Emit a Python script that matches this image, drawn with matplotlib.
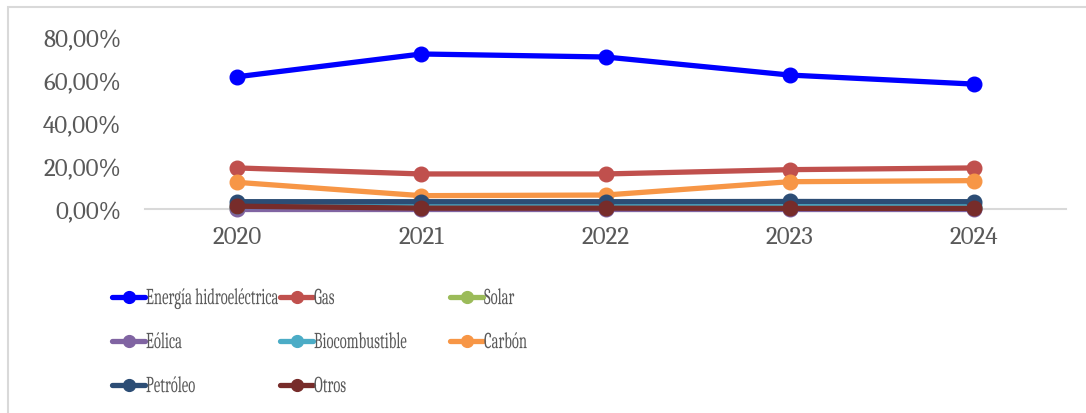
import matplotlib
matplotlib.use("Agg")
import matplotlib.pyplot as plt
from matplotlib.lines import Line2D
from matplotlib.patches import Rectangle
from matplotlib.patheffects import AbstractPathEffect
from matplotlib.transforms import Affine2D

# share of electricity generation by source, 2020-2024
years = ["2020", "2021", "2022", "2023", "2024"]
hidro = [61.5, 72.1, 70.7, 62.3, 58.1]
gas = [19.1, 16.3, 16.3, 18.3, 19.1]
solar = [0.3, 0.4, 0.4, 0.5, 0.6]
eolica = [0.2, 0.2, 0.2, 0.2, 0.2]
biocomb = [1.6, 1.6, 1.6, 1.6, 1.6]
carbon = [12.4, 6.2, 6.5, 12.7, 13.2]
petroleo = [3.4, 3.4, 3.4, 3.5, 3.4]
otros = [1.3, 0.4, 0.4, 0.3, 0.3]

series = [
    ("Energía hidroeléctrica", hidro, "#0000FF"),
    ("Gas", gas, "#C0504D"),
    ("Solar", solar, "#9BBB59"),
    ("Eólica", eolica, "#8064A2"),
    ("Biocombustible", biocomb, "#4BACC6"),
    ("Carbón", carbon, "#F79646"),
    ("Petróleo", petroleo, "#2C4D75"),
    ("Otros", otros, "#772C2A"),
]

W, H = 1086, 414
TXT = "#595959"
plt.rcParams['font.family'] = ['Caladea', 'DejaVu Serif']


class Narrow(AbstractPathEffect):
    """Draw text glyphs squeezed sideways and stretched up from the baseline."""
    def __init__(self, sx, sy=1.0):
        super().__init__()
        self.sx = sx
        self.sy = sy

    def draw_path(self, renderer, gc, tpath, affine, rgbFace=None):
        renderer.draw_path(gc, tpath, Affine2D().scale(self.sx, self.sy) + affine, rgbFace)


fig = plt.figure(figsize=(W / 100, H / 100), dpi=100)

def fx(x):
    return x / W

def fy(y):
    return 1 - y / H

# chart frame
fig.add_artist(Rectangle((fx(8), fy(H + 10)), fx(W + 10), (H + 2) / H,
                         transform=fig.transFigure, fill=False,
                         edgecolor="#D9D9D9", linewidth=1.5))

ax = fig.add_axes([fx(145), fy(210), fx(1066) - fx(145), fy(38) - fy(210)])
x = list(range(len(years)))
for name, vals, col in series:
    ax.plot(x, [v / 100 for v in vals], color=col, linewidth=3.8,
            marker="o", markersize=10.5, solid_capstyle="round", clip_on=False)

ax.set_xlim(-0.5, len(years) - 0.5)
ax.set_ylim(0, 0.8)
ax.set_yticks([0, 0.2, 0.4, 0.6, 0.8])
ax.set_yticklabels([f"{v:.2f}%".replace(".", ",") for v in [0, 20, 40, 60, 80]])
ax.set_xticks(x)
ax.set_xticklabels(years)
ax.tick_params(axis="y", length=0, pad=17, labelsize=18, labelcolor=TXT)
ax.tick_params(axis="x", length=0, pad=12, labelsize=18, labelcolor=TXT)
for s in ["top", "right", "left"]:
    ax.spines[s].set_visible(False)
ax.spines["bottom"].set_color("#D9D9D9")
ax.spines["bottom"].set_linewidth(1.5)
ax.spines["bottom"].set_zorder(0)

# legend laid out in rows of three, like the source spreadsheet
col_x = [112, 280, 450]
row_y = [298, 342, 386]
for i, (name, vals, col) in enumerate(series):
    r, c = divmod(i, 3)
    x0, y0 = col_x[c], row_y[r]
    fig.add_artist(Line2D([fx(x0), fx(x0 + 33)], [fy(y0), fy(y0)],
                          transform=fig.transFigure, color=col, linewidth=3.8,
                          solid_capstyle="round"))
    fig.add_artist(Line2D([fx(x0 + 16.5)], [fy(y0)], transform=fig.transFigure,
                          color=col, marker="o", markersize=8.5, linestyle="none"))
    fig.text(fx(x0 + 34), fy(y0 + 2.5), name, ha="left", va="center",
             fontsize=13.5, color=TXT, path_effects=[Narrow(0.78, 1.22)])

fig.savefig("out.png", dpi=100)
